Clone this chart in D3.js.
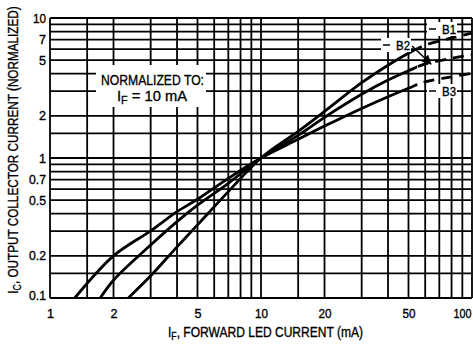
<!DOCTYPE html>
<html><head><meta charset="utf-8">
<script src="https://cdn.jsdelivr.net/npm/d3@7"></script>
<style>
body{margin:0;background:#fff;}
svg{display:block;font-family:"Liberation Sans",Arial,sans-serif;}
svg text{stroke:#000;stroke-width:0.35px;fill:#000;}
</style></head>
<body><svg id="c" width="473" height="345"></svg>
<script>
// grid values
const xGrid = [1,1.5,2,3,4,5,6,7,8,9,10,15,20,30,40,50,60,70,80,90,100];
const yGrid = [0.1,0.15,0.2,0.3,0.4,0.5,0.6,0.7,0.8,0.9,1,1.5,2,3,4,5,6,7,8,9,10];
// tick labels
const xTickValues = [1,2,5,10,20,50,100];
const xTickLabels = ["1","2","5","10","20","50","100"];
const yTickValues = [0.1,0.2,0.5,0.7,1,2,5,7,10];
const yTickLabels = ["0.1","0.2","0.5","0.7","1","2","5","7","10"];
// series (IF mA, IC normalized)
const b1X = [2.35,3,4,5,7,10,15,20,30,40,50,60,80,100];
const b1Y = [0.1,0.144,0.232,0.333,0.575,1,1.55,2.15,3.45,4.6,5.6,6.4,7.2,7.8];
const b2X = [1.73,2,3,4,5,7,10,15,20,30,40,50,60,80,100];
const b2Y = [0.1,0.134,0.239,0.351,0.46,0.66,1,1.45,1.95,2.85,3.6,4.2,4.7,5.15,5.45];
const b3X = [1.31,2,3,4,5,7,10,15,20,30,40,50,60,80,100];
const b3Y = [0.1,0.2,0.302,0.414,0.507,0.716,1,1.36,1.69,2.26,2.74,3.15,3.5,3.8,4.03];
const seriesNames = ["B1","B2","B3"];
const dashFrom = 55;

const svg = d3.select("#c");
const L=50,R=472,T=18,B=298;
const x = d3.scaleLog().domain([1,100]).range([L,R]);
const y = d3.scaleLog().domain([0.1,10]).range([B,T]);

// grid
const g = svg.append("g");
g.selectAll("line.v").data(xGrid).join("line")
  .attr("x1",d=>x(d)).attr("x2",d=>x(d)).attr("y1",T).attr("y2",B)
  .attr("stroke","#000").attr("stroke-width",1.8);
g.selectAll("line.h").data(yGrid).join("line")
  .attr("y1",d=>y(d)).attr("y2",d=>y(d)).attr("x1",L).attr("x2",R)
  .attr("stroke","#000").attr("stroke-width",1.8);

// axes labels via d3 axes
const xa = svg.append("g").attr("transform",`translate(0,${B})`)
  .call(d3.axisBottom(x).tickValues(xTickValues).tickSize(0).tickPadding(11)
    .tickFormat((d,i)=>xTickLabels[i]));
const ya = svg.append("g").attr("transform",`translate(${L},0)`)
  .call(d3.axisLeft(y).tickValues(yTickValues).tickSize(0).tickPadding(4)
    .tickFormat((d,i)=>yTickLabels[i]));
[xa,ya].forEach(a=>{a.select(".domain").remove();
  a.selectAll("text").attr("font-size",12.5).attr("font-family",null).attr("fill","#000");});
xa.selectAll(".tick").filter(d=>d===100).select("text").attr("text-anchor","end").attr("x",471-x(100));
ya.selectAll(".tick").filter(d=>d===0.1).select("text").attr("dy","0.1em");
ya.selectAll("text").each(function(){const t=d3.select(this);const s=t.text();
  t.attr("textLength", s.length===1?7:(s.length===2?13:17)).attr("lengthAdjust","spacingAndGlyphs");});
xa.selectAll("text").each(function(){const t=d3.select(this);const s=t.text();
  t.attr("textLength", s.length===1?7:(s.length===2?13:18)).attr("lengthAdjust","spacingAndGlyphs");});

// normalized box
svg.append("rect").attr("x",96).attr("y",65).attr("width",110).attr("height",42).attr("fill","#fff");
svg.append("text").attr("x",101).attr("y",85).attr("font-size",15)
  .attr("textLength",103).attr("lengthAdjust","spacingAndGlyphs").text("NORMALIZED TO:");
const t2 = svg.append("text").attr("x",117).attr("y",101).attr("font-size",15)
  .attr("textLength",70).attr("lengthAdjust","spacingAndGlyphs");
t2.append("tspan").text("I");
t2.append("tspan").attr("font-size",11).attr("dy",3).text("F");
t2.append("tspan").attr("dy",-3).text(" = 10 mA");

// curves
const line = d3.line().x(d=>x(d[0])).y(d=>y(d[1])).curve(d3.curveCatmullRom.alpha(0.5));
const series = [[b1X,b1Y],[b2X,b2Y],[b3X,b3Y]];
series.forEach(([xs,ys],k)=>{
  const pts = xs.map((v,i)=>[v,ys[i]]);
  const id = "cl"+k;
  svg.append("clipPath").attr("id",id+"a").append("rect").attr("x",0).attr("y",0).attr("width",x(dashFrom)).attr("height",345);
  svg.append("clipPath").attr("id",id+"b").append("rect").attr("x",x(dashFrom)).attr("y",0).attr("width",473).attr("height",345);
  svg.append("path").datum(pts).attr("d",line).attr("fill","none").attr("stroke","#000")
    .attr("stroke-width",2.8).attr("clip-path",`url(#${id}a)`);
  svg.append("path").datum(pts).attr("d",line).attr("fill","none").attr("stroke","#000")
    .attr("stroke-width",2.8).attr("stroke-dasharray","11,7").attr("clip-path",`url(#${id}b)`);
});

// series labels
const labs = [
  {n:seriesNames[0], tx:442, ty:34, dx1:429, dx2:436, dy:29},
  {n:seriesNames[1], tx:396, ty:50, dx1:383, dx2:390, dy:45},
  {n:seriesNames[2], tx:442, ty:96, dx1:429, dx2:436, dy:91}
];
labs.forEach(l=>{
  svg.append("rect").attr("x",l.dx1-2).attr("y",l.ty-12).attr("width",l.tx+17-l.dx1).attr("height",14).attr("fill","#fff");
  svg.append("line").attr("x1",l.dx1).attr("x2",l.dx2).attr("y1",l.dy).attr("y2",l.dy).attr("stroke","#000").attr("stroke-width",1.5);
  svg.append("text").attr("x",l.tx).attr("y",l.ty).attr("font-size",13)
    .attr("textLength",14).attr("lengthAdjust","spacingAndGlyphs").text(l.n);
});
// arrow B2
svg.append("defs").append("marker").attr("id","ah").attr("viewBox","0 0 10 10").attr("refX",9).attr("refY",5)
  .attr("markerWidth",6).attr("markerHeight",6).attr("orient","auto")
  .append("path").attr("d","M0,0L10,5L0,10z").attr("fill","#000");
svg.append("line").attr("x1",412).attr("y1",46).attr("x2",431).attr("y2",64)
  .attr("stroke","#000").attr("stroke-width",1.6).attr("marker-end","url(#ah)");

// axis titles
const xt = svg.append("text").attr("x",168).attr("y",337).attr("font-size",14.5)
  .attr("textLength",195).attr("lengthAdjust","spacingAndGlyphs");
xt.append("tspan").text("I");
xt.append("tspan").attr("font-size",10.5).attr("dy",3).text("F");
xt.append("tspan").attr("dy",-3).text(", FORWARD LED CURRENT (mA)");
const ytg = svg.append("g");
const yt = ytg.append("text").attr("font-size",14).attr("text-anchor","middle");
yt.append("tspan").text("I");
yt.append("tspan").attr("font-size",10.5).attr("dy",3).text("C");
yt.append("tspan").attr("dy",-3).text(", OUTPUT COLLECTOR CURRENT (NORMALIZED)");
const natW = yt.node().getComputedTextLength();
ytg.attr("transform",`translate(18,150) rotate(-90) scale(${288/natW},1)`);
</script></body></html>
